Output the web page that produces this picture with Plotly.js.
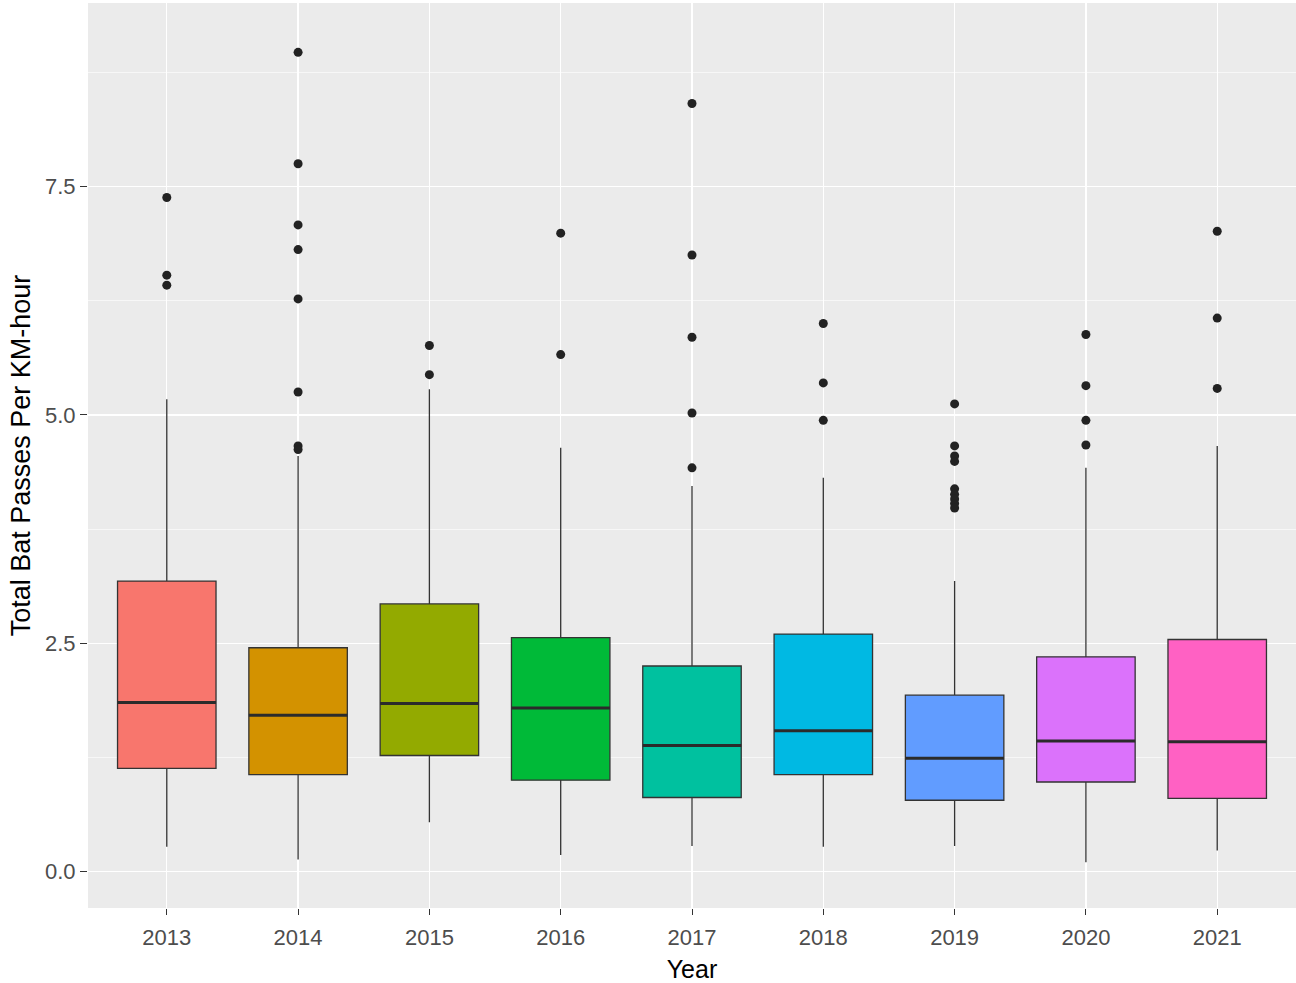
<!DOCTYPE html>
<html>
<head>
<meta charset="utf-8">
<script src="https://cdn.plot.ly/plotly-3.0.1.min.js"></script>
<style>html,body{margin:0;padding:0;background:#fff;}#chart{width:1296px;height:983px;}</style>
</head>
<body>
<div id="chart"></div>
<script>
const years = ['2013','2014','2015','2016','2017','2018','2019','2020','2021'];
const q1 =       [1.13, 1.06, 1.27, 1.00, 0.81, 1.06, 0.78, 0.98, 0.80];
const medians =  [1.85, 1.71, 1.84, 1.79, 1.38, 1.54, 1.24, 1.43, 1.42];
const q3 =       [3.18, 2.45, 2.93, 2.56, 2.25, 2.60, 1.93, 2.35, 2.54];
const lowerWhisker = [0.27, 0.13, 0.54, 0.18, 0.28, 0.27, 0.28, 0.10, 0.23];
const upperWhisker = [5.17, 4.55, 5.28, 4.64, 4.22, 4.31, 3.18, 4.42, 4.66];
const outliers = [
  [7.38, 6.53, 6.42],
  [8.97, 7.75, 7.08, 6.81, 6.27, 5.25, 4.66, 4.62],
  [5.76, 5.44],
  [6.99, 5.66],
  [8.41, 6.75, 5.85, 5.02, 4.42],
  [6.00, 5.35, 4.94],
  [5.12, 4.66, 4.55, 4.49, 4.19, 4.13, 4.08, 4.03, 3.98],
  [5.88, 5.32, 4.94, 4.67],
  [7.01, 6.06, 5.29]
];
const colors = ['#F8766D','#D39200','#93AA00','#00BA38','#00C19F','#00B9E3','#619CFF','#DB72FB','#FF61C3'];
const boxWidth = 0.75;

const traces = [];
years.forEach((yr, i) => {
  traces.push({
    type: 'box', x: [i], q1: [q1[i]], median: [medians[i]], q3: [q3[i]],
    lowerfence: [lowerWhisker[i]], upperfence: [upperWhisker[i]],
    width: boxWidth, whiskerwidth: 0, fillcolor: colors[i],
    line: {color: '#333333', width: 1.3}, boxpoints: false,
    hoverinfo: 'skip', showlegend: false
  });
  traces.push({
    type: 'scatter', mode: 'lines', x: [i - boxWidth/2, i + boxWidth/2], y: [medians[i], medians[i]],
    line: {color: '#2b2b2b', width: 3}, hoverinfo: 'skip', showlegend: false
  });
  traces.push({
    type: 'scatter', mode: 'markers', x: outliers[i].map(() => i), y: outliers[i],
    marker: {color: '#222222', size: 9}, hoverinfo: 'skip', showlegend: false
  });
});

const layout = {
  width: 1296, height: 983,
  margin: {l: 88, r: 0, t: 3, b: 75},
  paper_bgcolor: '#ffffff', plot_bgcolor: '#EBEBEB',
  font: {family: 'Liberation Sans, Arial, sans-serif', color: '#4D4D4D'},
  xaxis: {
    range: [-0.6, 8.6], tickmode: 'array', tickvals: years.map((_, i) => i), ticktext: years,
    showgrid: true, gridcolor: '#ffffff', gridwidth: 1.3, zeroline: false,
    ticks: 'outside', ticklen: 6, tickcolor: '#333333', tickwidth: 1, ticklabelstandoff: 4,
    tickfont: {size: 22, color: '#4D4D4D'}, showline: false,
    title: {text: 'Year', font: {size: 25, color: '#000000'}}
  },
  yaxis: {
    range: [-0.4, 9.51], tickmode: 'array', tickvals: [0, 2.5, 5, 7.5], ticktext: ['0.0','2.5','5.0','7.5'],
    showgrid: true, gridcolor: '#ffffff', gridwidth: 1.3, zeroline: false,
    minor: {tickmode: 'array', tickvals: [1.25, 3.75, 6.25, 8.75], showgrid: true, gridcolor: '#ffffff', gridwidth: 0.6, ticks: ''},
    ticks: 'outside', ticklen: 7, tickcolor: '#333333', tickwidth: 1,
    tickfont: {size: 22, color: '#4D4D4D'}, showline: false, automargin: true,
    title: {text: 'Total Bat Passes Per KM-hour', font: {size: 27, color: '#000000'}, standoff: 6}
  }
};

Plotly.newPlot('chart', traces, layout, {displayModeBar: false, staticPlot: true});
</script>
</body>
</html>
